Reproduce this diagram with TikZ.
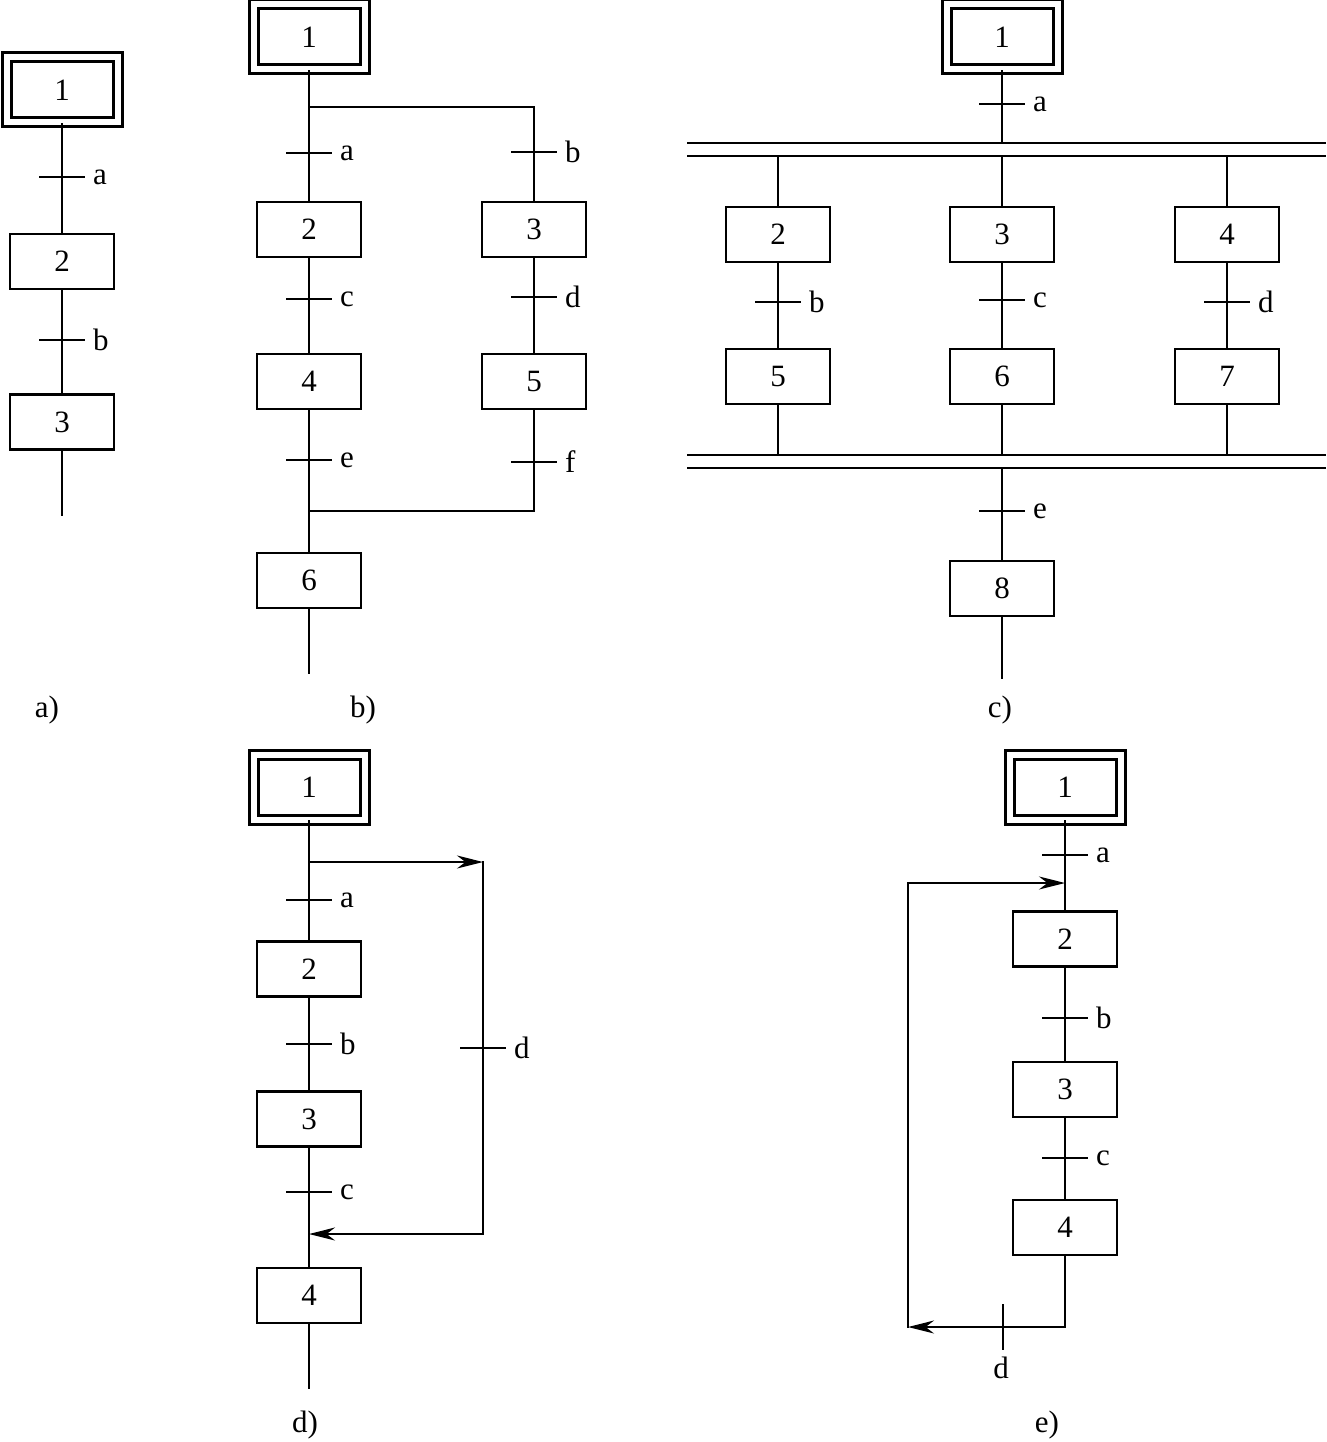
\documentclass[tikz,border=0pt]{standalone}
\usepackage{fontspec}
\setmainfont{Liberation Serif}
\usetikzlibrary{arrows.meta,calc}
\tikzset{
  stepbox/.style={draw, line width=2.6pt, minimum width=104pt, minimum height=55pt, inner sep=0pt, fill=white},
  initbox/.style={draw, line width=3pt, double, double distance=6pt, minimum width=111pt, minimum height=65pt, inner sep=0pt},
  conn/.style={line width=2pt, line cap=rect},
  trans/.style={line width=2pt},
  lbl/.style={inner sep=0pt, anchor=west},
  captext/.style={inner sep=0pt},
  arr/.style={line width=2pt, -{Stealth[length=26pt,width=13pt]}},
  bar/.style={line width=2.4pt}
}
\newcommand{\tr}[3]{% coordinate name, position, label
  \coordinate (#1) at #2;
  \draw[trans] ([xshift=-23pt]#1) -- ([xshift=23pt]#1);
  \node[lbl] (#1l) at ([xshift=31pt]#1) {#3};}
\begin{document}
\begin{tikzpicture}[x=1pt,y=-1pt,font=\fontsize{31}{37}\selectfont]
\useasboundingbox (0,0) rectangle (1326,1442);
% ---------------- panel a
\node[initbox] (a1) at (62,90) {1};
\node[stepbox] (a2) at (62,261.5) {2};
\node[stepbox] (a3) at (62,422) {3};
\coordinate (aend) at (62,515);
\draw[conn] (a1) -- (a2);
\draw[conn] (a2) -- (a3);
\draw[conn] (a3) -- (aend);
\tr{ta}{(62,177)}{a}
\tr{tb}{(62,340)}{b}
\node[captext] (capa) at (47,710) {a)};
% ---------------- panel b
\node[initbox] (b1) at (309,37) {1};
\node[stepbox] (b2) at (309,229.5) {2};
\node[stepbox] (b3) at (534,229.5) {3};
\node[stepbox] (b4) at (309,381.5) {4};
\node[stepbox] (b5) at (534,381.5) {5};
\node[stepbox] (b6) at (309,580.5) {6};
\coordinate (bs) at (309,107);
\coordinate (bsr) at (534,107);
\coordinate (bj) at (309,511);
\coordinate (bjr) at (534,511);
\coordinate (bend) at (309,673);
\draw[conn] (b1) -- (b2);
\draw[conn] (bs) -- (bsr) -- (b3);
\draw[conn] (b2) -- (b4);
\draw[conn] (b3) -- (b5);
\draw[conn] (b4) -- (b6);
\draw[conn] (b5) -- (bjr) -- (bj);
\draw[conn] (b6) -- (bend);
\tr{tba}{(309,153)}{a}
\tr{tbb}{(534,152)}{b}
\tr{tbc}{(309,299)}{c}
\tr{tbd}{(534,297)}{d}
\tr{tbe}{(309,460)}{e}
\tr{tbf}{(534,462)}{f}
\node[captext] (capb) at (363,710) {b)};
% ---------------- panel c
\node[initbox] (c1) at (1002,37) {1};
\node[stepbox] (c2) at (778,234.5) {2};
\node[stepbox] (c3) at (1002,234.5) {3};
\node[stepbox] (c4) at (1227,234.5) {4};
\node[stepbox] (c5) at (778,376.5) {5};
\node[stepbox] (c6) at (1002,376.5) {6};
\node[stepbox] (c7) at (1227,376.5) {7};
\node[stepbox] (c8) at (1002,588.5) {8};
\coordinate (ct1) at (1002,143);
\coordinate (ct2) at (778,156);
\coordinate (ct3) at (1002,156);
\coordinate (ct4) at (1227,156);
\coordinate (cb1) at (778,455);
\coordinate (cb2) at (1002,455);
\coordinate (cb3) at (1227,455);
\coordinate (cb4) at (1002,468);
\coordinate (cend) at (1002,678);
\draw[bar] (687,143) -- (1326,143);
\draw[bar] (687,156) -- (1326,156);
\draw[bar] (687,455) -- (1326,455);
\draw[bar] (687,468) -- (1326,468);
\draw[conn] (c1) -- (ct1);
\draw[conn] (ct2) -- (c2);
\draw[conn] (ct3) -- (c3);
\draw[conn] (ct4) -- (c4);
\draw[conn] (c2) -- (c5);
\draw[conn] (c3) -- (c6);
\draw[conn] (c4) -- (c7);
\draw[conn] (c5) -- (cb1);
\draw[conn] (c6) -- (cb2);
\draw[conn] (c7) -- (cb3);
\draw[conn] (cb4) -- (c8);
\draw[conn] (c8) -- (cend);
\tr{tca}{(1002,104)}{a}
\tr{tcb}{(778,302)}{b}
\tr{tcc}{(1002,300)}{c}
\tr{tcd}{(1227,302)}{d}
\tr{tce}{(1002,511)}{e}
\node[captext] (capc) at (1000,710) {c)};
% ---------------- panel d
\node[initbox] (d1) at (309,787) {1};
\node[stepbox] (d2) at (309,969) {2};
\node[stepbox] (d3) at (309,1119) {3};
\node[stepbox] (d4) at (309,1295.5) {4};
\coordinate (dls) at (309,862);
\coordinate (dlr) at (483,862);
\coordinate (dlb) at (483,1234);
\coordinate (dle) at (309,1234);
\coordinate (dend) at (309,1388);
\draw[conn] (d1) -- (d2);
\draw[conn] (d2) -- (d3);
\draw[conn] (d3) -- (d4);
\draw[conn] (d4) -- (dend);
\draw[arr] (dls) -- (dlr);
\draw[conn] (dlr) -- (dlb);
\draw[arr] (dlb) -- (dle);
\tr{tda}{(309,900)}{a}
\tr{tdb}{(309,1044)}{b}
\tr{tdc}{(309,1192)}{c}
\tr{tdd}{(483,1048)}{d}
\node[captext] (capd) at (305,1425) {d)};
% ---------------- panel e
\node[initbox] (e1) at (1065,787) {1};
\node[stepbox] (e2) at (1065,939) {2};
\node[stepbox] (e3) at (1065,1089.5) {3};
\node[stepbox] (e4) at (1065,1227.5) {4};
\coordinate (elt) at (1065,883);
\coordinate (ell) at (908,883);
\coordinate (elb) at (908,1327);
\coordinate (elr) at (1065,1327);
\draw[conn] (e1) -- (e2);
\draw[conn] (e2) -- (e3);
\draw[conn] (e3) -- (e4);
\draw[conn] (e4) -- (elr);
\draw[arr] (elr) -- (elb);
\draw[conn] (elb) -- (ell);
\draw[arr] (ell) -- (elt);
\tr{tea}{(1065,855)}{a}
\tr{teb}{(1065,1018)}{b}
\tr{tec}{(1065,1158)}{c}
\coordinate (ted) at (1003,1327);
\draw[trans] ([yshift=23pt]ted) -- ([yshift=-23pt]ted);
\node[captext] (tedl) at (1001,1368) {d};
\node[captext] (cape) at (1047,1425) {e)};
\end{tikzpicture}
\end{document}
